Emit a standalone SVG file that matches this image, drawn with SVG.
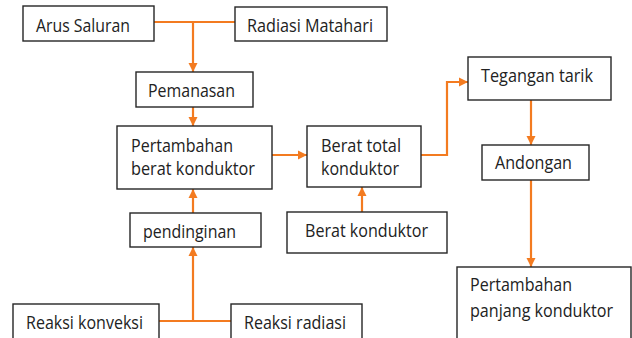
<svg xmlns="http://www.w3.org/2000/svg" width="632" height="338" viewBox="0 0 632 338">
<style>
.box{fill:#fff;stroke:#262626;stroke-width:1.4}
.t{font-family:"Open Sans","DejaVu Sans",sans-serif;font-size:17.5px;fill:#222}
.c{fill:none;stroke:#F37B20;stroke-width:2.2}
</style>
<defs>
<marker id="ah" markerUnits="userSpaceOnUse" markerWidth="10" markerHeight="10" refX="9" refY="5" orient="auto">
<path d="M0,0.5 L9,5 L0,9.5 z" fill="#F37B20"/>
</marker>
</defs>
<rect width="632" height="338" fill="#fff"/>
<g id="connectors">
<path class="c" d="M154,22 H235"/>
<path class="c" d="M193,22 V72" marker-end="url(#ah)"/>
<path class="c" d="M193,107 V126" marker-end="url(#ah)"/>
<path class="c" d="M272,155 H307" marker-end="url(#ah)"/>
<path class="c" d="M193,213 V189" marker-end="url(#ah)"/>
<path class="c" d="M159,321 H231"/>
<path class="c" d="M193,321 V247" marker-end="url(#ah)"/>
<path class="c" d="M362,212 V187" marker-end="url(#ah)"/>
<path class="c" d="M421,155 H447 V82 H468" marker-end="url(#ah)"/>
<path class="c" d="M531,100 V145" marker-end="url(#ah)"/>
<path class="c" d="M531,180 V267" marker-end="url(#ah)"/>
</g>
<g id="arus-saluran"><rect class="box" x="23" y="6" width="131" height="35"/><text class="t" x="36" y="32" textLength="94" lengthAdjust="spacingAndGlyphs">Arus Saluran</text></g>
<g id="radiasi-matahari"><rect class="box" x="235" y="7" width="152" height="34"/><text class="t" x="247" y="32" textLength="126" lengthAdjust="spacingAndGlyphs">Radiasi Matahari</text></g>
<g id="pemanasan"><rect class="box" x="136" y="72" width="117" height="35"/><text class="t" x="148" y="97" textLength="87" lengthAdjust="spacingAndGlyphs">Pemanasan</text></g>
<g id="pertambahan-berat"><rect class="box" x="117" y="126" width="155" height="63"/><text class="t" x="131" y="152" textLength="102" lengthAdjust="spacingAndGlyphs">Pertambahan</text><text class="t" x="131" y="175" textLength="124" lengthAdjust="spacingAndGlyphs">berat konduktor</text></g>
<g id="berat-total"><rect class="box" x="307" y="126" width="114" height="61"/><text class="t" x="321" y="152" textLength="80" lengthAdjust="spacingAndGlyphs">Berat total</text><text class="t" x="321" y="175" textLength="78" lengthAdjust="spacingAndGlyphs">konduktor</text></g>
<g id="pendinginan"><rect class="box" x="130" y="213" width="131" height="34"/><text class="t" x="143" y="238" textLength="93" lengthAdjust="spacingAndGlyphs">pendinginan</text></g>
<g id="berat-konduktor"><rect class="box" x="287" y="212" width="160" height="41"/><text class="t" x="305" y="237" textLength="123" lengthAdjust="spacingAndGlyphs">Berat konduktor</text></g>
<g id="reaksi-konveksi"><rect class="box" x="13" y="304" width="146" height="40"/><text class="t" x="26" y="329" textLength="117" lengthAdjust="spacingAndGlyphs">Reaksi konveksi</text></g>
<g id="reaksi-radiasi"><rect class="box" x="231" y="304" width="131" height="40"/><text class="t" x="244" y="329" textLength="102" lengthAdjust="spacingAndGlyphs">Reaksi radiasi</text></g>
<g id="tegangan-tarik"><rect class="box" x="468" y="57" width="143" height="43"/><text class="t" x="481" y="82" textLength="112" lengthAdjust="spacingAndGlyphs">Tegangan tarik</text></g>
<g id="andongan"><rect class="box" x="482" y="145" width="107" height="35"/><text class="t" x="495" y="169" textLength="77" lengthAdjust="spacingAndGlyphs">Andongan</text></g>
<g id="pertambahan-panjang"><rect class="box" x="457" y="267" width="174" height="80"/><text class="t" x="470" y="291" textLength="102" lengthAdjust="spacingAndGlyphs">Pertambahan</text><text class="t" x="470" y="317" textLength="143" lengthAdjust="spacingAndGlyphs">panjang konduktor</text></g>
</svg>
